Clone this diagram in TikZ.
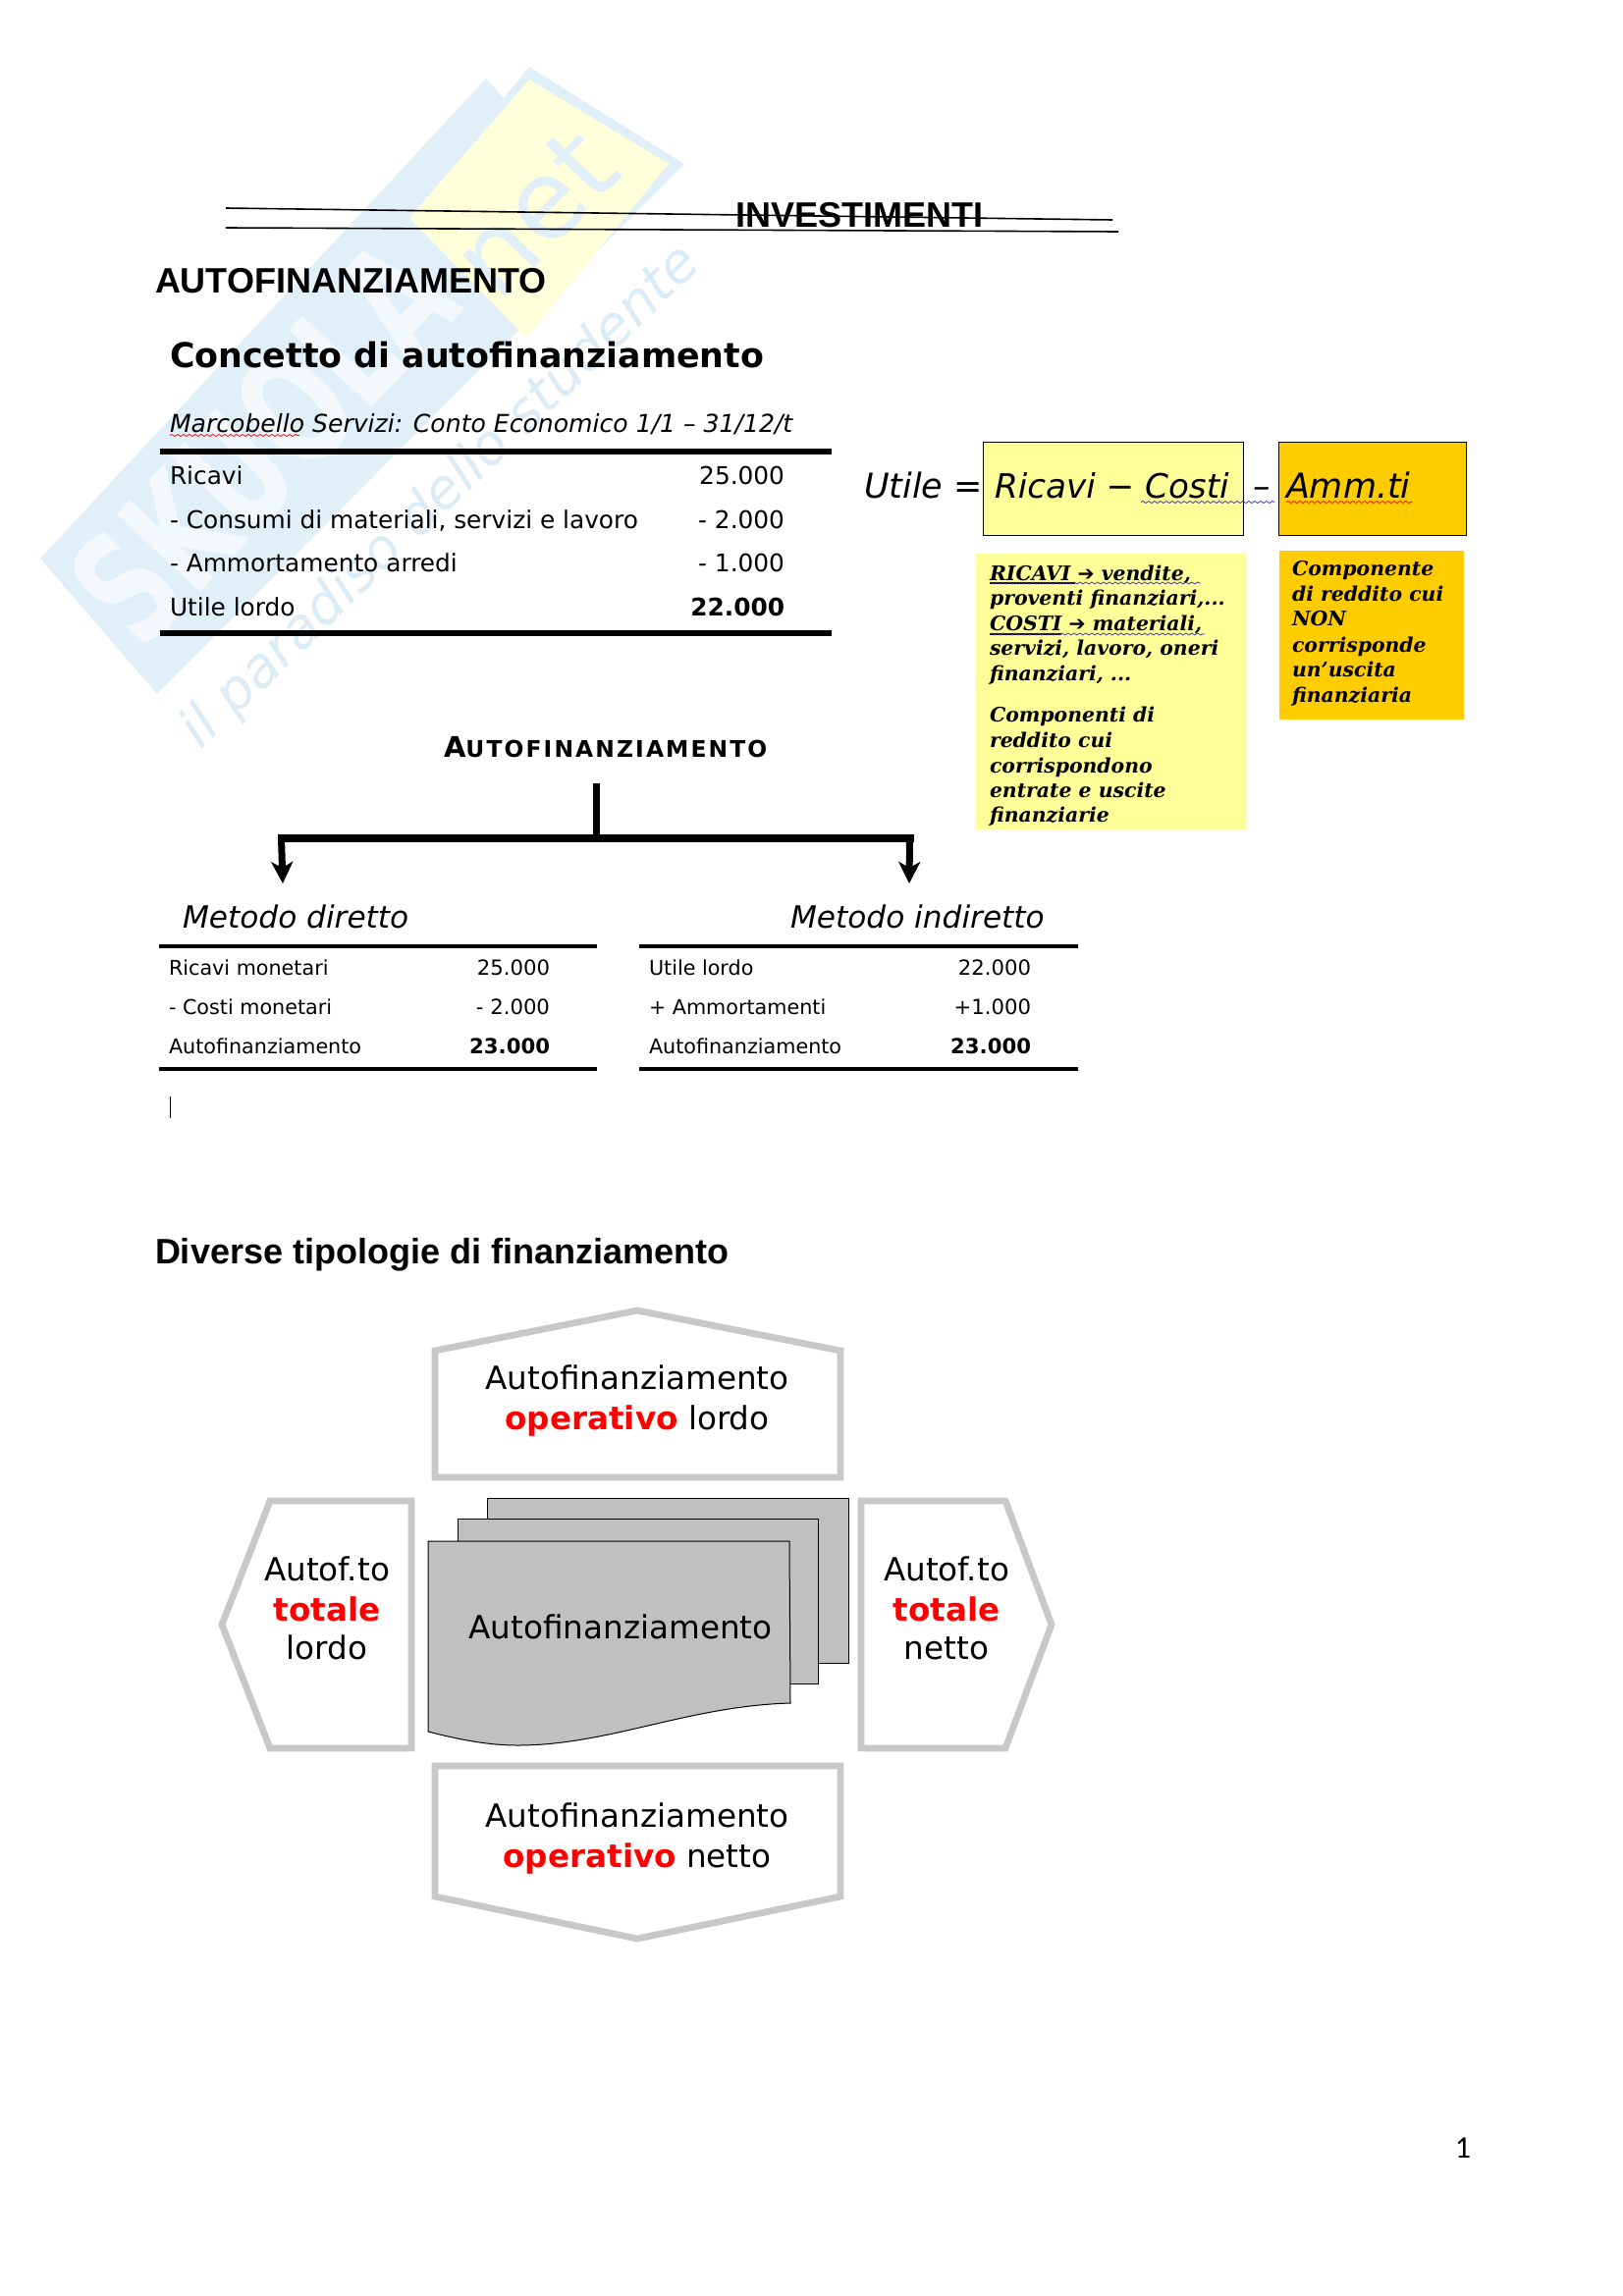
\documentclass[tikz,border=0pt]{standalone}
\usepackage{fontspec}
\setmainfont{DejaVu Sans}
\newfontfamily\arialf{Liberation Sans}
\newfontfamily\serifbi{DejaVu Serif}
\newfontfamily\calibrif{Carlito}
\newfontfamily\spaced[LetterSpace=9]{DejaVu Sans}
\usetikzlibrary{arrows.meta,decorations.pathmorphing}
\newcommand{\fz}[1]{\fontsize{#1pt}{#1pt}\selectfont}
\newcommand{\note}{\fz{10.2}\serifbi\bfseries\itshape}
\definecolor{wmblue}{HTML}{E1F0F8}
\definecolor{wmletter}{HTML}{F2F8FC}
\definecolor{wmtext}{HTML}{DBECF6}
\definecolor{wmyellow}{HTML}{FFFFD9}
\definecolor{noteyellow}{HTML}{FFFF99}
\definecolor{noteorange}{HTML}{FFCC00}
\definecolor{hexgray}{HTML}{C8C8C8}
\definecolor{docgray}{HTML}{C0C0C0}
\definecolor{squigblue}{HTML}{3030C0}
\tikzset{
  x=0.5pt,y=-0.5pt,
  tw/.style={anchor=base west,inner sep=0pt,outer sep=0pt},
  te/.style={anchor=base east,inner sep=0pt,outer sep=0pt},
  tc/.style={anchor=base,inner sep=0pt,outer sep=0pt},
  sheadA/.style={tw,font=\arialf\bfseries\fz{18}},
  row/.style={tw,font=\fz{12.4}},
  rownum/.style={te,font=\fz{12.4}},
  rowb/.style={te,font=\fz{12.4}\bfseries},
  lrow/.style={tw,font=\fz{10.35}},
  lnum/.style={te,font=\fz{10.6}},
  lnumb/.style={te,font=\fz{10.6}\bfseries},
  meth/.style={tw,font=\fz{15.6}\itshape},
  formula/.style={tw,font=\fz{17.5}\itshape},
  notetext/.style={tw,font=\note},
  hex/.style={draw=hexgray,line width=3.4pt,miter limit=10,fill=white},
  hextext/.style={tc,font=\fz{16.3}},
  doc/.style={draw=black,line width=0.5pt,fill=docgray},
  thick rule/.style={line width=3pt},
  thin rule/.style={line width=2pt},
  conn/.style={line width=3.5pt},
  squig/.style={decorate,decoration={snake,segment length=3pt,amplitude=0.5pt},line width=0.4pt},
}
\begin{document}
\begin{tikzpicture}
\useasboundingbox (0,0) rectangle (1653,2339);
% watermark
\fill[wmblue] (41,569) -- (495,80) -- (513,100) -- (539,68) -- (697,167) -- (160,707) -- cycle;
\fill[wmyellow] (539,81) -- (681,167) -- (536,344) -- (417,222) -- cycle;
\node[rotate=47,text=wmletter,font=\fz{53}\bfseries,inner sep=0pt] (wmS) at (268,450) {\scalebox{1}[1.5]{SKUOLA}};
\node[rotate=46,text=wmblue,font=\fz{56},inner sep=0pt] (wmN) at (532,230) {.net};
\node[rotate=44,text=wmtext,font=\fz{28}\itshape,inner sep=0pt] (wmP) at (449,507) {il paradiso dello studente};
% heading
\coordinate (s1a) at (230,212); \coordinate (s1b) at (1133,224);
\coordinate (s2a) at (230,232); \coordinate (s2b) at (1139,236);
\draw[line width=0.8pt] (s1a) -- (s1b);
\draw[line width=0.8pt] (s2a) -- (s2b);
\node[sheadA] (inv) at (749,231) {INVESTIMENTI};
\node[sheadA] (auto) at (158,298) {AUTOFINANZIAMENTO};
\node[tw,font=\fz{17.4}\bfseries] (conc) at (173,374) {Concetto di autofinanziamento};
\node[tw,font=\fz{12.55}\itshape] (marc) at (173,440) {Marcobello Servizi: Conto Economico 1/1 – 31/12/t};
\coordinate (m1) at (173,443.5); \coordinate (m2) at (305,443.5);
\draw[squig,red] (m1) -- (m2);
% income statement
\coordinate (t1a) at (163,460); \coordinate (t1b) at (847,460);
\coordinate (t2a) at (163,645); \coordinate (t2b) at (847,645);
\draw[thick rule] (t1a) -- (t1b);
\draw[thick rule] (t2a) -- (t2b);
\node[row] (r1) at (173,493.5) {Ricavi};
\node[row] (r2) at (173,538.5) {- Consumi di materiali, servizi e lavoro};
\node[row] (r3) at (173,582.5) {- Ammortamento arredi};
\node[row] (r4) at (173,627) {Utile lordo};
\node[rownum] (n1) at (799,493.5) {25.000};
\node[rownum] (n2) at (799,538.5) {- 2.000};
\node[rownum] (n3) at (799,582.5) {- 1.000};
\node[rowb] (n4) at (799,627) {22.000};
% formula
\node[draw=black,line width=0.5pt,fill=noteyellow,minimum width=132.5pt,minimum height=47.5pt,inner sep=0pt,anchor=north west] (boxR) at (1001,450) {};
\node[draw=black,line width=0.5pt,fill=noteorange,minimum width=95.5pt,minimum height=47.5pt,inner sep=0pt,anchor=north west] (boxA) at (1302,450) {};
\node[formula] (utile) at (880,507) {Utile};
\node[formula] (eq) at (971,507) {=};
\node[formula,font=\fz{17.1}\itshape] (rc) at (1013,507) {Ricavi − Costi};
\node[formula] (minus) at (1276,507) {–};
\node[formula] (amm) at (1310,507) {Amm.ti};
\coordinate (b1) at (1162,511.5); \coordinate (b2) at (1298,511.5);
\coordinate (a1) at (1310,511.5); \coordinate (a2) at (1438,511.5);
\draw[squig,squigblue] (b1) -- (b2);
\draw[squig,red] (a1) -- (a2);
% notes
\node[fill=noteyellow,minimum width=138pt,minimum height=140.5pt,inner sep=0pt,anchor=north west] (noteY) at (994,564) {};
\node[fill=noteorange,minimum width=94pt,minimum height=86pt,inner sep=0pt,anchor=north west] (noteO) at (1303,561) {};
\node[notetext] (y1) at (1008,591) {RICAVI {\rmfamily\bfseries ➔} vendite,};
\node[notetext] (y2) at (1008,616) {proventi finanziari,...};
\node[notetext] (y3) at (1008,642) {COSTI {\rmfamily\bfseries ➔} materiali,};
\node[notetext] (y4) at (1008,667) {servizi, lavoro, oneri};
\node[notetext] (y5) at (1008,693) {finanziari, ...};
\node[notetext] (y6) at (1008,735) {Componenti di};
\node[notetext] (y7) at (1008,761) {reddito cui};
\node[notetext] (y8) at (1008,787) {corrispondono};
\node[notetext] (y9) at (1008,812) {entrate e uscite};
\node[notetext] (y10) at (1008,837) {finanziarie};
\node[notetext] (o1) at (1316,586.5) {Componente};
\node[notetext] (o2) at (1316,612.5) {di reddito cui};
\node[notetext] (o3) at (1316,637.5) {NON};
\node[notetext] (o4) at (1316,664.5) {corrisponde};
\node[notetext] (o5) at (1316,689.5) {un’uscita};
\node[notetext] (o6) at (1316,715.5) {finanziaria};
\coordinate (u1a) at (1008,594); \coordinate (u1b) at (1095,594); \coordinate (u1c) at (1223,594);
\coordinate (u2a) at (1008,646); \coordinate (u2b) at (1081,646); \coordinate (u2c) at (1227,646);
\draw[line width=0.6pt] (u1a) -- (u1b);
\draw[line width=0.6pt] (u2a) -- (u2b);
\draw[squig,squigblue] (u1a) -- (u1c);
\draw[squig,squigblue] (u2a) -- (u2c);
% method tree
\node[tw] (meta) at (452,771.5) {\fz{14.5}\bfseries A\spaced\fz{11.7}\bfseries UTOFINANZIAMENTO};
\coordinate (stemT) at (607,798); \coordinate (stemB) at (607,852);
\coordinate (hL) at (286.5,854); \coordinate (hR) at (926.5,854);
\coordinate (tipL) at (288,900); \coordinate (tipR) at (926,900);
\draw[conn] (stemT) -- (stemB);
\draw[line width=4pt,line cap=rect] (hL) -- (hR);
\draw[conn,-{Stealth[length=11pt,width=11pt,inset=3pt]}] (hL) -- (tipL);
\draw[conn,-{Stealth[length=11pt,width=11pt,inset=3pt]}] (hR) -- (tipR);
\node[meth] (md) at (186,945) {Metodo diretto};
\node[meth] (mi) at (805,945) {Metodo indiretto};
\coordinate (l1a) at (162,964); \coordinate (l1b) at (608,964);
\coordinate (l2a) at (162,1089); \coordinate (l2b) at (608,1089);
\coordinate (l3a) at (651,964); \coordinate (l3b) at (1098,964);
\coordinate (l4a) at (651,1089); \coordinate (l4b) at (1098,1089);
\draw[thin rule] (l1a) -- (l1b);
\draw[thin rule] (l2a) -- (l2b);
\draw[thin rule] (l3a) -- (l3b);
\draw[thin rule] (l4a) -- (l4b);
\node[lrow] (a1t) at (172,993) {Ricavi monetari};
\node[lrow] (a2t) at (172,1033) {- Costi monetari};
\node[lrow] (a3t) at (172,1073.5) {Autofinanziamento};
\node[lnum] (a1n) at (560,993) {25.000};
\node[lnum] (a2n) at (560,1033) {- 2.000};
\node[lnumb] (a3n) at (560,1073.5) {23.000};
\node[lrow] (b1t) at (661,993) {Utile lordo};
\node[lrow] (b2t) at (661,1033) {+ Ammortamenti};
\node[lrow] (b3t) at (661,1073.5) {Autofinanziamento};
\node[lnum] (b1n) at (1050,993) {22.000};
\node[lnum] (b2n) at (1050,1033) {+1.000};
\node[lnumb] (b3n) at (1050,1073.5) {23.000};
\coordinate (cur1) at (173,1117); \coordinate (cur2) at (173,1139);
\draw[line width=0.5pt] (cur1) -- (cur2);
% second section
\node[sheadA] (div) at (158,1287) {Diverse tipologie di finanziamento};
\draw[hex] (443,1376) -- (649,1335) -- (856,1376) -- (856,1505) -- (443,1505) -- cycle;
\draw[hex] (443,1799) -- (856,1799) -- (856,1932) -- (649,1975) -- (443,1932) -- cycle;
\draw[hex] (419,1529) -- (275,1529) -- (226,1655) -- (275,1781) -- (419,1781) -- cycle;
\draw[hex] (877,1529) -- (1024,1529) -- (1071,1655) -- (1024,1781) -- (877,1781) -- cycle;
\draw[doc] (496,1526) rectangle (864,1694);
\draw[doc] (466,1547) rectangle (833,1715);
\draw[doc] (436,1570) -- (804,1570) -- (805,1735) .. controls (700,1738) and (620,1778) .. (527,1778) .. controls (497,1778) and (467,1772) .. (436,1764) -- cycle;
\node[tc,font=\fz{16.3}] (ctr) at (632,1669) {Autofinanziamento};
\node[hextext] (t1) at (649,1415) {Autofinanziamento};
\node[hextext] (t2) at (649,1456) {\textcolor{red}{\bfseries operativo} lordo};
\node[hextext] (bt1) at (649,1861) {Autofinanziamento};
\node[hextext] (bt2) at (649,1902) {\textcolor{red}{\bfseries operativo} netto};
\node[hextext] (l1) at (333,1610) {Autof.to};
\node[hextext] (l2) at (333,1651) {\textcolor{red}{\bfseries totale}};
\node[hextext] (l3) at (333,1690) {lordo};
\node[hextext] (rr1) at (964,1610) {Autof.to};
\node[hextext] (rr2) at (964,1651) {\textcolor{red}{\bfseries totale}};
\node[hextext] (rr3) at (964,1690) {netto};
\node[tc,font=\calibrif\fz{16}] (pg) at (1490,2198) {1};
\end{tikzpicture}
\end{document}
